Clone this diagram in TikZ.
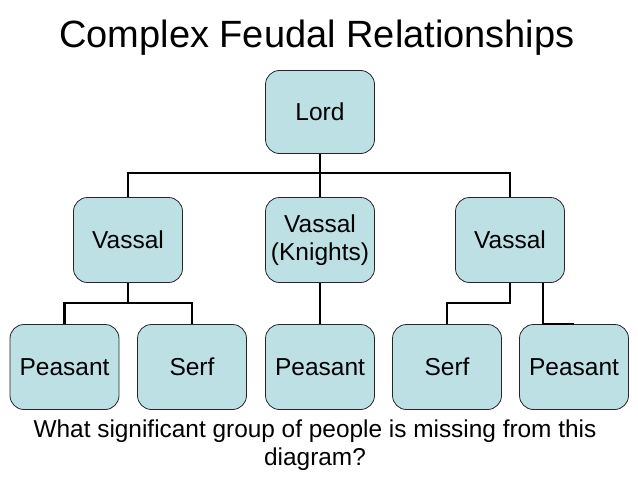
\documentclass[tikz,border=0pt]{standalone}
\usepackage{fontspec}
\setmainfont{Liberation Sans}
\usepackage{tikz}
\definecolor{boxblue}{RGB}{188,224,228}

\begin{document}
\begin{tikzpicture}[x=1pt,y=1pt]
    \tikzstyle{every node}+=[inner sep=0pt]
    \tikzstyle{box}=[draw=black!85, line width=0.8pt, fill=boxblue, rounded corners=14pt,
        minimum width=109pt, minimum height=85pt, align=center,
        font=\fontsize{24.5}{28}\selectfont]
    \tikzstyle{link}=[black, line width=2.2pt]
    \useasboundingbox (0,0) rectangle (638,-479);
    \node [anchor=base, font=\fontsize{38}{44}\selectfont] (title) at (317,-47) {Complex Feudal Relationships};
    % lord and vassals
    \node [box, minimum height=83pt] (lord) at (320,-112) {Lord};
    \node [box] (lv) at (128,-240) {Vassal};
    \node [box] (mv) at (320,-240) {Vassal\\(Knights)};
    \node [box] (rv) at (510,-240) {Vassal};
    % bottom row
    \node [box] (p1) at (64.5,-367) {Peasant};
    \node [box] (s1) at (192,-367) {Serf};
    \node [box] (p2) at (320,-367) {Peasant};
    \node [box] (s2) at (447,-367) {Serf};
    \node [box] (p3) at (574,-367) {Peasant};
    % connectors
    \coordinate (top) at (320,-173);
    \coordinate (lbus) at (128,-303);
    \coordinate (rbus) at (510,-303);
    \draw [link] (lord.south) -- (mv.north);
    \draw [link] (lv.north) |- (top) -| (rv.north);
    \draw [link] (lv.south) -- (lbus);
    \draw [link] (p1.north) |- (lbus) -| (s1.north);
    \draw [link] (mv.south) -- (p2.north);
    \draw [link] (rv.south) -- (rbus) -| (s2.north);
    \draw [link] (rv.south) ++(33,0) |- (p3.north);
    % question
    \node [anchor=base, font=\fontsize{24.4}{28}\selectfont] (q1) at (315,-437) {What significant group of people is missing from this};
    \node [anchor=base, font=\fontsize{24.4}{28}\selectfont] (q2) at (315,-465) {diagram?};
\end{tikzpicture}
\end{document}
